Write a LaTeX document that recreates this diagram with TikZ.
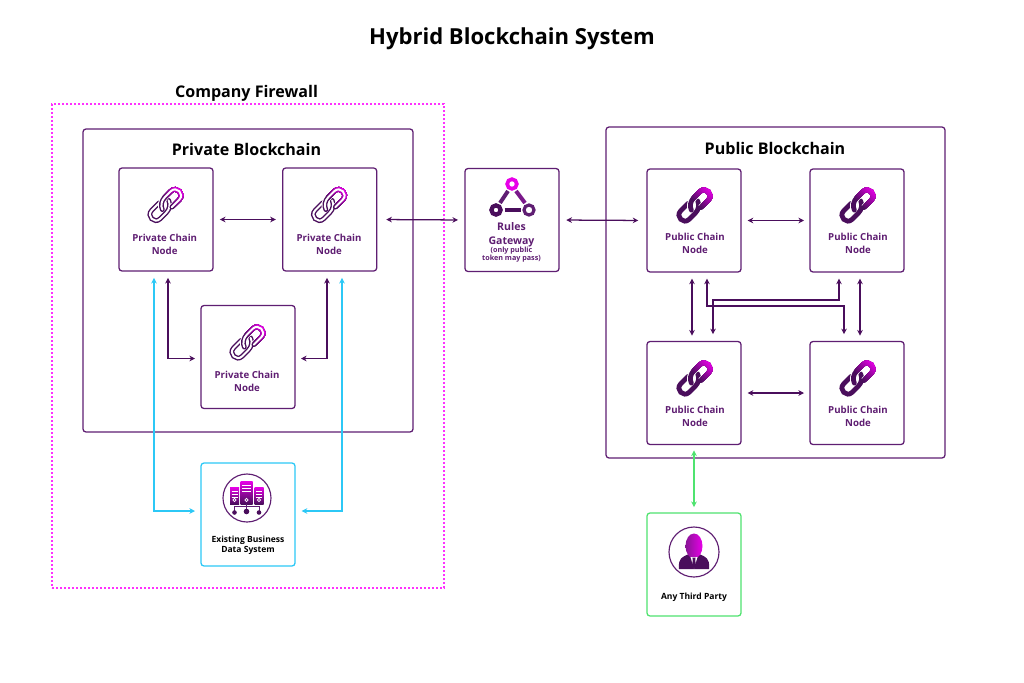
\documentclass[tikz,border=0pt]{standalone}
\usepackage{fontspec}
\setmainfont{Open Sans}
\usetikzlibrary{arrows.meta,calc}
\definecolor{dk}{HTML}{4A0E5C}
\definecolor{pur}{HTML}{5F1E72}
\definecolor{mag}{HTML}{E800E8}
\definecolor{fw}{HTML}{FF30FF}
\definecolor{cy}{HTML}{2CC8F6}
\definecolor{gr}{HTML}{4FE36F}
\tikzset{
  x=0.75pt,y=-0.75pt,
  boxed/.style={draw=pur,line width=0.95pt,rounded corners=2.2pt,fill=white,inner sep=0pt,outer sep=0pt},
  nodebox/.style={boxed,minimum width=70.5pt,minimum height=77.2pt},
  cybox/.style={nodebox,draw=cy},
  grbox/.style={nodebox,draw=gr},
  title/.style={font=\bfseries\fontsize{16.55}{20}\selectfont,text=black,inner sep=0pt},
  head/.style={font=\bfseries\fontsize{12.05}{14}\selectfont,text=black,inner sep=0pt},
  lab/.style={font=\bfseries\fontsize{7.25}{9.8}\selectfont,text=pur,align=center,inner sep=0pt},
  lablg/.style={font=\bfseries\fontsize{7.9}{10.6}\selectfont,text=pur,align=center,inner sep=0pt},
  labsm/.style={font=\fontsize{5.4}{6.2}\selectfont\bfseries,text=pur,align=center,inner sep=0pt},
  blk/.style={font=\bfseries\fontsize{6.4}{7.2}\selectfont,text=black,align=center,inner sep=0pt},
  link/.style={line width=0.95pt,{Stealth[length=4.2pt,width=4.2pt]}-{Stealth[length=4.2pt,width=4.2pt]}},
  dkl/.style={link,draw=dk},
  cyl/.style={link,draw=cy},
  grl/.style={link,draw=gr},
  ring/.style={draw=pur,line width=0.85pt,fill=white},
}
\def\lowpath{(-3,-6) -- (-13.5,-6) .. controls (-21.5,-6) and (-21.5,6) .. (-13.5,6) -- (-5,6) .. controls (0,6) and (4,3) .. (5.5,-1)}
\def\uppath{(3,6) -- (13.5,6) .. controls (21.5,6) and (21.5,-6) .. (13.5,-6) -- (5,-6) .. controls (0,-6) and (-4,-3) .. (-5.5,1)}
\newcommand{\chainicon}[3]{% x,y,hollow(1) or solid(0)
  \begin{scope}[shift={(#1,#2)},rotate=45,line cap=round]
    \draw[dk,line width=3.6pt] \lowpath;
    \ifnum#3=1 \draw[white,line width=1.5pt] \lowpath; \fi
    \draw[white,line width=5pt,line cap=butt] \uppath;
    \draw[dk,line width=3.6pt] \uppath;
    \foreach \p in {5,10,...,100}{
      \begin{scope}
        \clip (\p*0.2+2,-14) rectangle (26,14);
        \draw[mag!\p!dk,line width=3.6pt] \uppath;
      \end{scope}}
    \ifnum#3=1 \draw[white,line width=1.5pt] \uppath; \fi
  \end{scope}}
\begin{document}
\begin{tikzpicture}
\useasboundingbox[fill=white] (0,0) rectangle (1024,682);
% titles
\node[title] (t) at (512,38.5) {Hybrid Blockchain System};
\node[head] (cf) at (246.5,93.5) {Company Firewall};
% containers
\node[inner sep=0pt,outer sep=0pt,minimum width=294pt,minimum height=363pt,draw=fw,line width=1.8pt,dash pattern=on 1.6pt off 1.4pt] (fwbox) at (248,346) {};
\node[boxed,minimum width=247.5pt,minimum height=227.2pt] (prv) at (248,280.5) {};
\node[boxed,minimum width=254.2pt,minimum height=248.2pt] (pub) at (775.5,292.5) {};
\node[head] (prvt) at (246.5,149) {Private Blockchain};
\node[head] (pubt) at (775,148) {Public Blockchain};
% nodes
\node[nodebox] (a) at (166,219.5) {};
\node[nodebox] (b) at (329.7,219.5) {};
\node[nodebox] (c) at (248,357) {};
\node[nodebox] (g) at (512,220) {};
\node[nodebox] (p1) at (694,220.5) {};
\node[nodebox] (p2) at (857,220.5) {};
\node[nodebox] (p3) at (694,393) {};
\node[nodebox] (p4) at (857,393) {};
\node[cybox] (d) at (248,514.5) {};
\node[grbox] (tp) at (694,564.5) {};
% labels
\node[lab] (la) at (164.7,244) {Private Chain\\Node};
\node[lab] (lb) at (329,244) {Private Chain\\Node};
\node[lab] (lc) at (247,381.3) {Private Chain\\Node};
\node[lab] (l1) at (695,243.5) {Public Chain\\Node};
\node[lab] (l2) at (858,243.5) {Public Chain\\Node};
\node[lab] (l3) at (695,416) {Public Chain\\Node};
\node[lab] (l4) at (858,416) {Public Chain\\Node};
\node[lablg] (lg) at (511.5,234.5) {Rules\\Gateway};
\node[labsm] (lg2) at (511.5,254.5) {(only public\\token may pass)};
\node[blk] (ld) at (248,545.5) {Existing Business\\Data System};
\node[blk] (lt) at (694,597) {Any Third Party};
% chain icons
\chainicon{165.5}{205}{1}
\chainicon{329}{205}{1}
\chainicon{247.5}{342.5}{1}
\chainicon{694.5}{205.5}{0}
\chainicon{857.5}{205.5}{0}
\chainicon{694.5}{378.5}{0}
\chainicon{857.5}{378.5}{0}
% gateway icon
\draw[dk,line width=3.2pt] (496,210) circle (4.6);
\draw[pur,line width=2.4pt] (529,210) circle (5);
\draw[mag,line width=2.8pt] (512,184) circle (4.8);
\draw[dk,line width=3pt] (504.5,210) -- (521,210);
\draw[pur,line width=3pt] (500,203) -- (508,191);
\draw[pur!80!mag,line width=3pt] (516,191) -- (525,203);
% server icon
\draw[ring] (247,498) circle (24);
\foreach \xa/\xb/\yt in {230/239/487,240.5/252.5/481,254.5/263.5/487}{
  \path[bottom color=dk,top color=mag] (\xa,\yt) rectangle (\xb,504);
  \draw[white,line width=0.55pt] (\xa+1.5,\yt+4) -- (\xb-1.5,\yt+4) (\xa+1.5,\yt+7) -- (\xb-1.5,\yt+7) (\xa+1.5,\yt+10) -- (\xb-1.5,\yt+10);
  \draw[white,line width=0.5pt] ({(\xa+\xb)/2},500) circle (1.7);
}
\draw[pur,line width=0.6pt] (234.5,512) -- (234.5,506) -- (259,506) -- (259,512) (246.5,504) -- (246.5,511);
\fill[dk] (234.5,512.5) circle (2.3) (246.5,511.5) circle (2.8) (259,512.5) circle (2.3);
% person icon
\draw[ring] (694,552) circle (25);
\path[bottom color=dk,top color=dk,middle color=dk] (679,569) .. controls (678,558) and (682,557) .. (689,554) -- (699,554) .. controls (706,557) and (710,558) .. (709,569) -- cycle;
\path[left color=pur!70!mag,right color=mag] (694,546) ellipse (8.5 and 12.5);
\fill[white] (690.5,557) -- (697.5,557) -- (694,568.5) -- cycle;
\fill[dk] (692.4,557.5) -- (695.6,557.5) -- (695.2,560) -- (696,566) -- (694,568.5) -- (692,566) -- (692.8,560) -- cycle;
% connectors
\draw[dkl,shorten >=5.2pt,shorten <=5.2pt] (a.east) -- (b.west);
\draw[dkl,shorten >=5.2pt,shorten <=7.2pt] (b.east) -- (g.west);
\draw[dkl,shorten >=6.5pt,shorten <=5.5pt] (g.east) -- (p1.west);
\draw[dkl,shorten >=4.5pt,shorten <=5pt] (p1.east) -- (p2.west);
\draw[dkl,shorten >=4.5pt,shorten <=5pt] (p3.east) -- (p4.west);
\draw[dkl,shorten >=4.5pt,shorten <=5pt] ([shift={(-2,0)}]p1.south) -- ([shift={(-2,0)}]p3.north);
\draw[dkl,shorten >=4.5pt,shorten <=5pt] ([shift={(3,0)}]p2.south) -- ([shift={(3,0)}]p4.north);
\draw[dkl,shorten >=5.5pt,shorten <=5pt] ([shift={(13,0)}]p1.south) |- (844,306) -- ([shift={(-13,0)}]p4.north);
\draw[dkl,shorten >=5.5pt,shorten <=5pt] ([shift={(-18,0)}]p2.south) |- (713,300) -- ([shift={(19,0)}]p3.north);
\draw[dkl,shorten >=4.5pt,shorten <=5.2pt] ([shift={(2,0)}]a.south) |- ([shift={(0,1.5)}]c.west);
\draw[dkl,shorten >=4.5pt,shorten <=5.2pt] ([shift={(-2.7,0)}]b.south) |- ([shift={(0,1.5)}]c.east);
\draw[cyl,shorten >=4.5pt,shorten <=5.2pt] ([shift={(-12,0)}]a.south) |- ([shift={(0,-3.5)}]d.west);
\draw[cyl,shorten >=5pt,shorten <=5.2pt] ([shift={(12.3,0)}]b.south) |- ([shift={(0,-3.5)}]d.east);
\draw[grl,shorten >=4.5pt,shorten <=4.5pt] (p3.south) -- (tp.north);
\end{tikzpicture}
\end{document}
